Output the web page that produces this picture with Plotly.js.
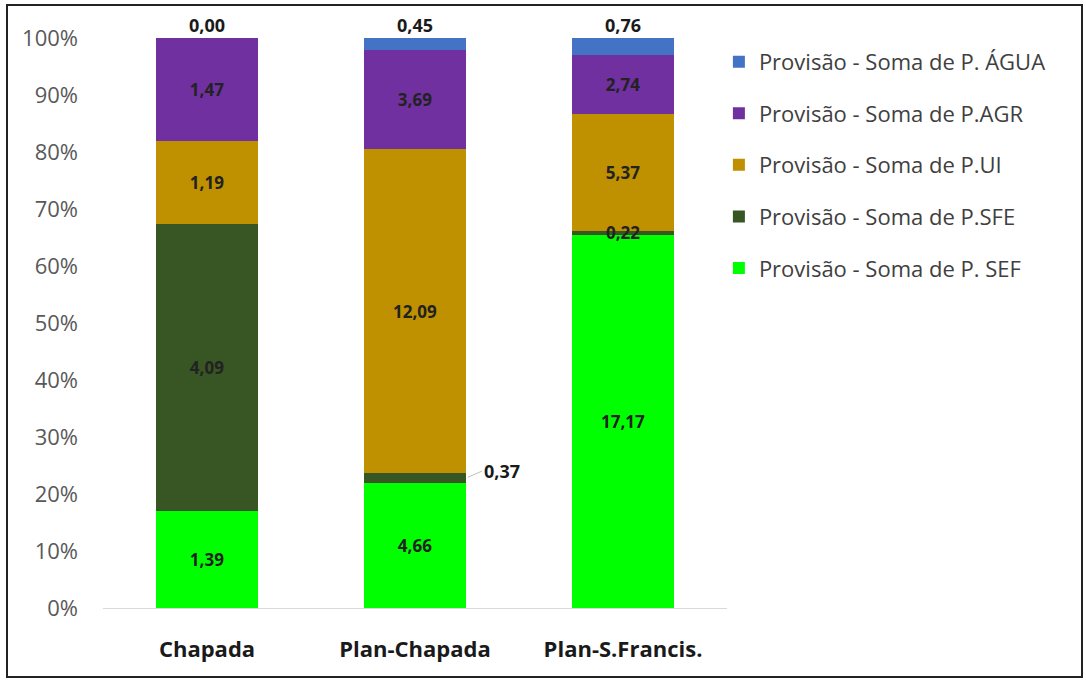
<!DOCTYPE html>
<html>
<head>
<meta charset="utf-8">
<script src="https://cdn.plot.ly/plotly-3.0.1.min.js"></script>
<style>
html,body{margin:0;padding:0;background:#fff;}
#wrap{position:relative;width:1086px;height:681px;}
#chart{position:absolute;left:0;top:0;width:1086px;height:681px;}
#frame{position:absolute;left:6px;top:4px;width:1077px;height:674px;border:2px solid #222;box-sizing:border-box;pointer-events:none;}
</style>
</head>
<body>
<div id="wrap"><div id="chart"></div><div id="frame"></div></div>
<script>
const categories = ["Chapada", "Plan-Chapada", "Plan-S.Francis."];
const seriesNames = ["Provisão - Soma de P. SEF", "Provisão - Soma de P.SFE", "Provisão - Soma de P.UI", "Provisão - Soma de P.AGR", "Provisão - Soma de P. ÁGUA"];
const pSEF  = [1.39, 4.66, 17.17];
const pSFE  = [4.09, 0.37, 0.22];
const pUI   = [1.19, 12.09, 5.37];
const pAGR  = [1.47, 3.69, 2.74];
const pAGUA = [0.00, 0.45, 0.76];
const colors = ["#00FF00", "#375623", "#BF9000", "#7030A0", "#4472C4"];

const series = [pSEF, pSFE, pUI, pAGR, pAGUA];
const fmt = v => v.toFixed(2).replace('.', ',');
const FONT = "'Open Sans', sans-serif";
const BARGAP = 0.51;

const traces = series.map((vals, i) => {
  const t = {
    type: 'bar', x: categories, y: vals, name: seriesNames[i],
    marker: {color: colors[i]}, legendgroup: 'g' + i,
    legendrank: series.length - i,
    hoverinfo: 'name+y'
  };
  if (i <= 3) {
    t.text = vals.map(v => (i === 1 && v < 1) ? '' : fmt(v));
    t.textposition = 'inside';
    t.insidetextanchor = 'middle';
    t.textangle = 0;
    t.constraintext = 'none';
    t.textfont = {family: FONT, size: 17, color: '#222222', weight: 'bold'};
  }
  return t;
});

const totals = categories.map((c, k) => series.reduce((s, arr) => s + arr[k], 0));
const cumPct = (k, upto) => {
  let s = 0; for (let i = 0; i < upto; i++) s += series[i][k]; return 100 * s / totals[k];
};

const annotations = [];
categories.forEach((c, k) => {
  annotations.push({x: c, y: 100, text: '<b>' + fmt(pAGUA[k]) + '</b>', showarrow: false,
    yanchor: 'bottom', yshift: -1, font: {family: FONT, size: 18, color: '#1a1a1a'}});
});
categories.forEach((c, k) => {
  if (pSFE[k] >= 1) return;
  const mid = (cumPct(k, 1) + cumPct(k, 2)) / 2;
  if (k === 1) {
    annotations.push({x: k + (1 - BARGAP) / 2, y: mid, text: '<b>' + fmt(pSFE[k]) + '</b>', showarrow: true,
      arrowhead: 0, arrowwidth: 1, arrowcolor: '#bfbfbf', ax: 16, ay: -7, xanchor: 'left',
      standoff: 2, font: {family: FONT, size: 18, color: '#1a1a1a'}});
  } else {
    annotations.push({x: c, y: mid, text: '<b>' + fmt(pSFE[k]) + '</b>', showarrow: false,
      font: {family: FONT, size: 17, color: '#222222'}});
  }
});

const layout = {
  width: 1086, height: 681,
  margin: {l: 103, r: 359, t: 38, b: 73},
  paper_bgcolor: '#fff', plot_bgcolor: '#fff',
  barmode: 'stack', barnorm: 'percent', bargap: BARGAP,
  font: {family: FONT, color: '#595959'},
  xaxis: {
    showgrid: false, showline: true, linecolor: '#d9d9d9', linewidth: 1,
    ticks: '', tickfont: {family: FONT, size: 22, color: '#1a1a1a', weight: 'bold'},
    ticklabelstandoff: 22
  },
  yaxis: {
    range: [0, 100], dtick: 10, ticksuffix: '%', showgrid: false, zeroline: false,
    showline: false, ticks: '', tickfont: {family: FONT, size: 22, color: '#595959'},
    ticklabelstandoff: 24
  },
  legend: {
    x: 0.987, y: 0.995, xanchor: 'left', yanchor: 'top',
    traceorder: 'grouped', tracegroupgap: 20,
    font: {family: FONT, size: 22, color: '#404040'},
    itemwidth: 30
  },
  annotations: annotations,
  showlegend: true
};

Plotly.newPlot('chart', traces, layout, {displayModeBar: false, staticPlot: true});
</script>
</body>
</html>
